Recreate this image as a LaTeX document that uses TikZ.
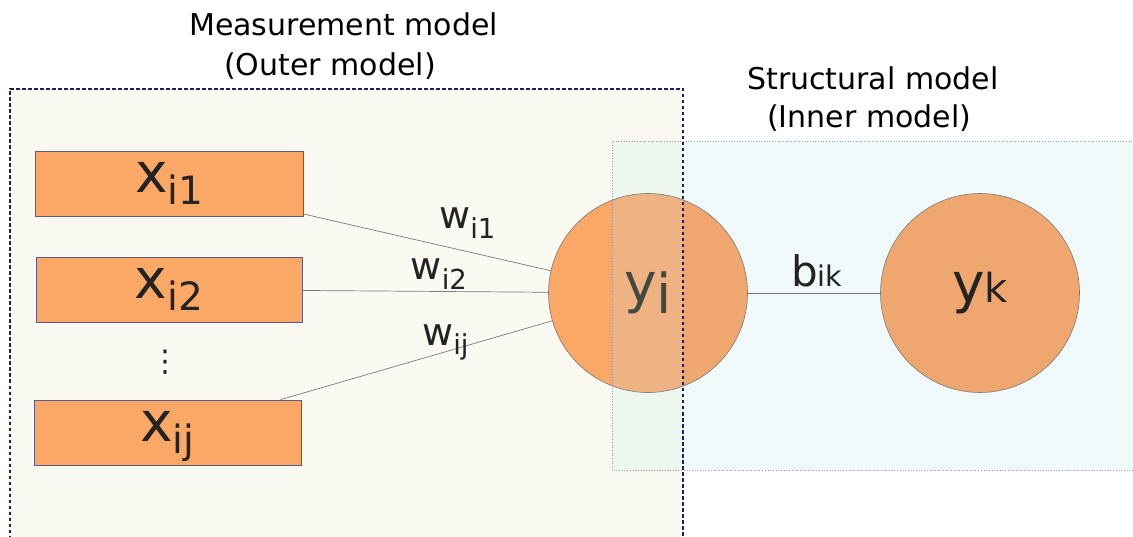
\documentclass[tikz,border=0pt]{standalone}
\usepackage{fontspec}
\setmainfont{DejaVu Sans}
\newfontfamily\titlefont{DejaVu Sans}
\definecolor{cream}{HTML}{FAFAF2}
\definecolor{icyan}{HTML}{F0FAFA}
\definecolor{overlap}{HTML}{EDF7EE}
\definecolor{orng}{HTML}{FBA766}
\definecolor{orngmid}{HTML}{EFB282}
\definecolor{orngr}{HTML}{EFA76F}
\definecolor{rectline}{HTML}{5A5A8C}
\definecolor{navy}{HTML}{1C1C6A}
\definecolor{dotline}{HTML}{9098B8}
\definecolor{conn}{HTML}{7A7A7A}
\definecolor{txt}{HTML}{232323}
\definecolor{txtyi}{HTML}{414A40}
\newcommand\lowsub[3]{\raisebox{-#1pt}{\fontsize{#2}{#2}\selectfont #3}}
\begin{document}
\begin{tikzpicture}[x=1pt,y=-1pt,
  titletext/.style={anchor=base west,inner sep=0pt,text=black,font=\titlefont\fontsize{30}{32}\selectfont},
  xbox/.style={rectangle,draw=rectline,line width=0.8pt,fill=orng,minimum height=65pt,inner sep=0pt,text=txt,text height=30pt,text depth=11.6pt,font=\fontsize{55}{55}\selectfont},
  latent/.style={circle,draw=conn,line width=0.6pt,minimum size=199pt,inner sep=0pt,text=txt,font=\fontsize{55}{55}\selectfont},
  wlabel/.style={anchor=base west,inner sep=0pt,text=txt,font=\fontsize{38}{38}\selectfont},
  connector/.style={draw=conn,line width=0.7pt}]
\useasboundingbox (0,0) rectangle (1133,537);
% backgrounds
\fill[cream] (10,89) rectangle (683,545);
\fill[icyan] (612,141) rectangle (1140,470);
\fill[overlap] (612,141) rectangle (683,470);
% latent circle fills
\coordinate (yic) at (648,293);
\begin{scope}
  \clip (yic) circle (99.5);
  \fill[orng] (540,180) rectangle (612,400);
  \fill[orngmid] (612,180) rectangle (683,400);
  \fill[orngr] (683,180) rectangle (760,400);
\end{scope}
\node[latent] (yi) at (yic) {\textcolor{txtyi}{y\lowsub{11.6}{55}{i}}};
\node[latent,fill=orngr] (yk) at (980,293) {y{\fontsize{40}{40}\selectfont k}};
% indicator boxes
\node[xbox,minimum width=268pt] (xi1) at (169.5,183.5) {x\lowsub{11.6}{39}{i1}};
\node[xbox,minimum width=266pt] (xi2) at (169,289.5) {x\lowsub{11.6}{39}{i2}};
\node[xbox,minimum width=267pt] (xij) at (167.5,432.5) {x\lowsub{11.6}{39}{ij}};
\node[inner sep=0pt,text=txt,font=\fontsize{30}{30}\selectfont] (dots) at (165,362) {⋮};
% connectors
\draw[connector] (xi1) -- (yi);
\draw[connector] (xi2) -- (yi);
\draw[connector] (xij) -- (yi);
\draw[connector] (yi) -- (yk);
% region borders
\draw[dotline,line width=0.7pt,dotted] (1140,141) -- (612,141) -- (612,470) -- (1140,470);
\draw[navy,line width=1.5pt,dash pattern=on 3.5pt off 2.5pt] (10,545) -- (10,89) -- (683,89) -- (683,545);
% labels
\node[wlabel] (w1) at (439,228.3) {w\lowsub{10}{27.5}{i1}};
\node[wlabel] (w2) at (410.5,280) {w\lowsub{9.5}{27.5}{i2}};
\node[wlabel] (wj) at (422,345) {w\lowsub{9.5}{27.5}{ij}};
\node[anchor=base west,inner sep=0pt,text=txt] (bik) at (791,286.7) {\fontsize{42}{42}\selectfont b{\fontsize{28.5}{28.5}\selectfont ik}};
% titles
\node[titletext] (t1) at (189,36) {Measurement model};
\node[titletext] (t2) at (224,75.5) {(Outer model)};
\node[titletext] (t3) at (747,89.5) {Structural model};
\node[titletext] (t4) at (767,127.5) {(Inner model)};
\end{tikzpicture}
\end{document}
